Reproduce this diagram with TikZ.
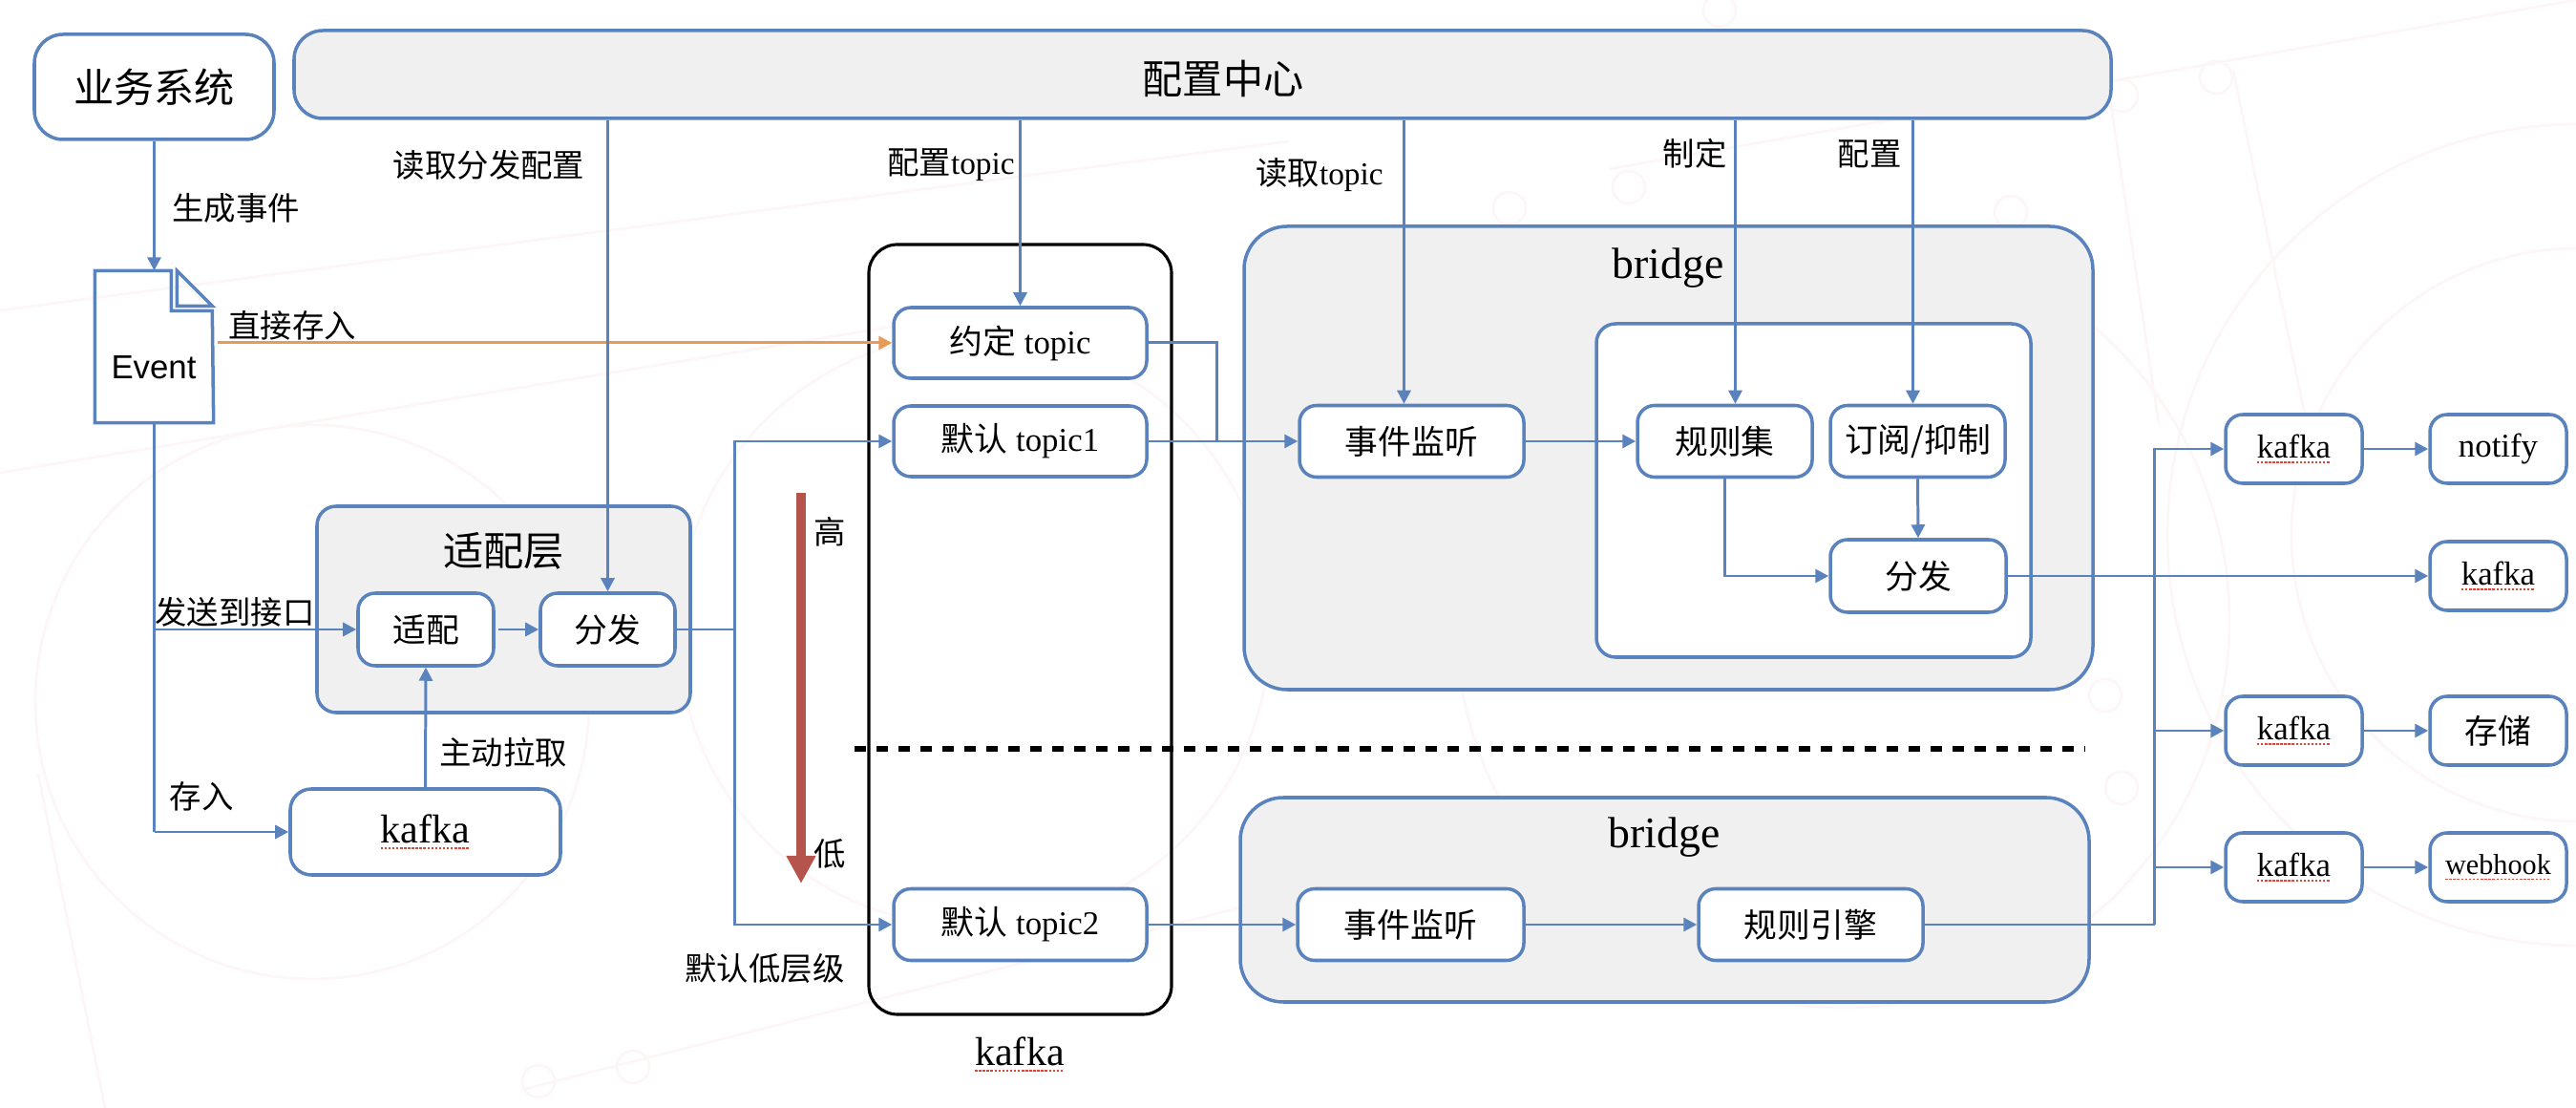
\documentclass[tikz,border=0pt]{standalone}
\usepackage{fontspec}
\setmainfont{Liberation Serif}
\newfontfamily\cjk{Noto Sans CJK SC}
\newfontfamily\evfont{Liberation Sans}
\usepackage{xcolor}
\usepackage{tikz}
\usetikzlibrary{arrows.meta,calc}

\definecolor{flowblue}{HTML}{5A82BC}
\definecolor{panelgray}{HTML}{F0F0F0}
\definecolor{directorange}{HTML}{E69B56}
\definecolor{levelred}{HTML}{B5544D}
\definecolor{spellred}{HTML}{E0453A}
\definecolor{markpink}{HTML}{FDF6F6}

\newcommand{\zh}[1]{{\cjk #1}}
\newcommand{\spellmark}[1]{\setbox0\hbox{#1}\rlap{\raisebox{-1.7pt}{\textcolor{spellred}{\hbox to\wd0{\xleaders\hbox{\rule{0.7pt}{0.55pt}\kern0.45pt}\hfill}}}}\box0}

\tikzset{
    panel/.style={draw=flowblue, line width=1pt, fill=panelgray, rounded corners=0.2cm, inner sep=0pt},
    whitebox/.style={draw=flowblue, line width=1pt, fill=white, rounded corners=0.18cm, inner sep=0pt,
        font=\fontsize{9.9}{12}\selectfont},
    outbox/.style={whitebox, minimum width=1.43cm, minimum height=0.72cm},
    tag/.style={inner sep=0pt, font=\fontsize{9.5}{12}\selectfont},
    headline/.style={inner sep=0pt, font=\fontsize{12}{14}\selectfont},
    conn/.style={draw=flowblue, line width=0.85pt, -{Triangle[length=0.14cm,width=0.14cm]}},
    wire/.style={draw=flowblue, line width=0.85pt},
    wmline/.style={draw=markpink, line width=0.8pt},
}

\begin{document}
\begin{tikzpicture}
    \useasboundingbox (0,0) rectangle (26.98,11.60);

    % Faint watermark behind everything
    \begin{scope}
        \clip (0,0) rectangle (26.98,11.60);
        \foreach \cx/\cy/\r in {3.27/4.25/2.9, 10.2/5.0/3.1, 19.3/5.1/4.05, 27.0/6.0/4.3, 27.0/6.0/3.0} {
            \draw[wmline] (\cx,\cy) circle (\r);
        }
        \foreach \cx/\cy in {23.21/10.79, 22.22/10.6, 21.06/9.38, 17.06/9.64, 15.81/9.42, 18.01/11.49, 22.05/4.32, 22.22/3.35, 5.64/0.28, 6.63/0.43} {
            \draw[wmline] (\cx,\cy) circle (0.17);
        }
        \draw[wmline] (0,8.35) -- (13.49,10.12);
        \draw[wmline] (0,6.65) -- (9.47,8.2);
        \draw[wmline] (16.85,9.83) -- (23.2,10.94) -- (26.98,11.6);
        \draw[wmline] (22.1,10.56) -- (22.61,7.16);
        \draw[wmline] (23.39,10.86) -- (24.16,7.16);
        \draw[wmline] (0.4,3.5) -- (1.1,0);
        \draw[wmline] (5.5,0.2) -- (13.0,2.1);
    \end{scope}

    % Containers
    \node[panel, rounded corners=0.3cm, minimum width=19.03cm, minimum height=0.92cm] (cfg) at (12.595,10.82) {};
    \node[panel, minimum width=3.91cm, minimum height=2.16cm] (adapter) at (5.275,5.22) {};
    \node[panel, rounded corners=0.45cm, minimum width=8.89cm, minimum height=4.85cm] (bridgeA) at (17.475,6.805) {};
    \node[panel, rounded corners=0.45cm, minimum width=8.89cm, minimum height=2.14cm] (bridgeB) at (17.435,2.18) {};
    \node[panel, fill=white, minimum width=4.55cm, minimum height=3.49cm] (inner) at (18.995,6.465) {};
    \node[draw=black, line width=0.9pt, rounded corners=0.3cm, minimum width=3.17cm, minimum height=8.06cm] (topics) at (10.685,5.01) {};

    % Container titles
    \node[headline] (cfgTitle) at (12.81,10.78) {\zh{配置中心}};
    \node[headline] (adapterTitle) at (5.275,5.83) {\zh{适配层}};
    \node[headline, font=\fontsize{13}{15}\selectfont] (bridgeTitleA) at (17.47,8.79) {bridge};
    \node[headline, font=\fontsize{13}{15}\selectfont] (bridgeTitleB) at (17.43,2.83) {bridge};
    \node[headline] (topicsTitle) at (10.68,0.56) {\spellmark{kafka}};

    % Business system and event document
    \node[whitebox, rounded corners=0.3cm, font=\fontsize{12}{14}\selectfont, minimum width=2.51cm, minimum height=1.10cm] (biz) at (1.615,10.69) {\zh{业务系统}};
    \node[minimum width=1.23cm, minimum height=1.58cm, inner sep=0pt] (event) at (1.615,7.97) {};
    \draw[flowblue, line width=1pt, line join=miter] (event.north west) -- ++(0.80,0) -- ++(0,-0.42) -- ++(0.43,0) -- (event.south east) -- (event.south west) -- cycle;
    \draw[flowblue, line width=1pt] ($(event.north west)+(0.86,0)$) -- ++(0.37,-0.37) -- ++(-0.37,0) -- cycle;
    \node[inner sep=0pt, font=\evfont\fontsize{9.9}{12}\selectfont] (eventText) at (1.61,7.75) {Event};

    % Adapter layer
    \node[whitebox, minimum width=1.42cm, minimum height=0.76cm] (adapt) at (4.46,5.01) {\zh{适配}};
    \node[whitebox, minimum width=1.41cm, minimum height=0.76cm] (dist) at (6.365,5.01) {\zh{分发}};
    \node[whitebox, rounded corners=0.22cm, font=\fontsize{12}{14}\selectfont, minimum width=2.83cm, minimum height=0.90cm] (kafkaIn) at (4.455,2.89) {\spellmark{kafka}};

    % Topics
    \node[whitebox, minimum width=2.65cm, minimum height=0.74cm] (agreed) at (10.685,8.01) {\zh{约定} topic};
    \node[whitebox, minimum width=2.65cm, minimum height=0.74cm] (topicA) at (10.685,6.98) {\zh{默认} topic1};
    \node[whitebox, minimum width=2.65cm, minimum height=0.75cm] (topicB) at (10.685,1.92) {\zh{默认} topic2};

    % Bridge contents
    \node[whitebox, minimum width=2.35cm, minimum height=0.75cm] (listenA) at (14.785,6.98) {\zh{事件监听}};
    \node[whitebox, minimum width=1.83cm, minimum height=0.75cm] (rules) at (18.065,6.98) {\zh{规则集}};
    \node[whitebox, minimum width=1.83cm, minimum height=0.75cm] (subs) at (20.085,6.98) {\zh{订阅/抑制}};
    \node[whitebox, minimum width=1.84cm, minimum height=0.76cm] (distB) at (20.09,5.57) {\zh{分发}};
    \node[whitebox, minimum width=2.37cm, minimum height=0.75cm] (listenB) at (14.775,1.92) {\zh{事件监听}};
    \node[whitebox, minimum width=2.35cm, minimum height=0.75cm] (engine) at (18.965,1.92) {\zh{规则引擎}};

    % Outputs
    \node[outbox] (kafkaA) at (24.025,6.90) {\spellmark{kafka}};
    \node[outbox] (kafkaC) at (24.025,3.95) {\spellmark{kafka}};
    \node[outbox] (kafkaD) at (24.025,2.52) {\spellmark{kafka}};
    \node[outbox] (notify) at (26.165,6.90) {notify};
    \node[outbox] (kafkaB) at (26.165,5.57) {\spellmark{kafka}};
    \node[outbox] (store) at (26.165,3.95) {\zh{存储}};
    \node[outbox, font=\fontsize{8.6}{12}\selectfont] (webhook) at (26.165,2.52) {\spellmark{webhook}};

    % Junctions
    \coordinate (splitTop) at (7.69,5.01);
    \coordinate (joinTopic) at (12.74,6.98);
    \coordinate (busLow) at (22.565,1.92);
    \coordinate (levelTop) at (8.39,6.44);
    \coordinate (levelEnd) at (8.39,2.35);
    \coordinate (dashStart) at (8.95,3.76);
    \coordinate (dashEnd) at (21.84,3.76);

    % Left side connectors
    \draw[conn] (biz.south) -- (event.north);
    \draw[wire] (event.south) -- (kafkaIn.west -| event.south);
    \draw[conn] (adapt.west -| event.south) -- (adapt.west);
    \draw[conn] (kafkaIn.west -| event.south) -- (kafkaIn.west);
    \draw[conn] (kafkaIn.north) -- (adapt.south);
    \draw[conn] ([xshift=0.03cm]adapt.east) -- (dist.west);
    \draw[wire] (dist.east) -- (splitTop);
    \draw[conn] (splitTop) |- (topicA.west);
    \draw[conn] (splitTop) |- (topicB.west);
    \draw[directorange, line width=0.85pt, -{Triangle[length=0.14cm,width=0.14cm]}] ([xshift=0.04cm]event.east |- agreed.west) -- (agreed.west);

    % Config center connectors
    \draw[conn] (cfg.south -| dist.north) -- (dist.north);
    \draw[conn] (cfg.south -| agreed.north) -- (agreed.north);
    \draw[conn] ([xshift=-0.08cm]cfg.south -| listenA.north) -- ([xshift=-0.08cm]listenA.north);
    \draw[conn] ([xshift=0.11cm]cfg.south -| rules.north) -- ([xshift=0.11cm]rules.north);
    \draw[conn] ([xshift=-0.05cm]cfg.south -| subs.north) -- ([xshift=-0.05cm]subs.north);

    % Bridge connectors
    \draw[wire] (agreed.east) -| (joinTopic);
    \draw[conn] (topicA.east) -- (listenA.west);
    \draw[conn] (listenA.east) -- (rules.west);
    \draw[conn] (rules.south) |- (distB.west);
    \draw[conn] (subs.south) -- (distB.north);
    \draw[conn] (distB.east) -- (kafkaB.west);
    \draw[conn] (topicB.east) -- (listenB.west);
    \draw[conn] (listenB.east) -- (engine.west);
    \draw[wire] (engine.east) -- (busLow);

    % Output connectors
    \foreach \out in {kafkaA,kafkaC,kafkaD} {
        \draw[conn] (busLow) |- (\out.west);
    }
    \foreach \src/\dst in {kafkaA/notify,kafkaC/store,kafkaD/webhook} {
        \draw[conn] (\src.east) -- (\dst.west);
    }

    % Level arrow and divider
    \draw[levelred, line width=2.8pt, -{Triangle[length=0.29cm,width=0.29cm]}] (levelTop) -- (levelEnd);
    \draw[black, line width=1.7pt, dash pattern=on 0.12cm off 0.11cm] (dashStart) -- (dashEnd);

    % Labels
    \node[tag] (readDist) at (5.12,9.87) {\zh{读取分发配置}};
    \node[tag] (genEvent) at (2.47,9.42) {\zh{生成事件}};
    \node[tag] (direct) at (3.06,8.19) {\zh{直接存入}};
    \node[tag] (levelHigh) at (8.69,6.03) {\zh{高}};
    \node[tag] (levelLow) at (8.69,2.66) {\zh{低}};
    \node[tag] (sendApi) at (2.46,5.19) {\zh{发送到接口}};
    \node[tag] (pull) at (5.27,3.72) {\zh{主动拉取}};
    \node[tag] (saveIn) at (2.11,3.26) {\zh{存入}};
    \node[tag] (lowDefault) at (8.01,1.46) {\zh{默认低层级}};
    \node[tag] (cfgTopic) at (9.96,9.87) {\zh{配置}topic};
    \node[tag] (readTopic) at (13.82,9.77) {\zh{读取}topic};
    \node[tag] (makeRule) at (17.75,9.99) {\zh{制定}};
    \node[tag] (cfgSub) at (19.58,9.99) {\zh{配置}};
\end{tikzpicture}
\end{document}
